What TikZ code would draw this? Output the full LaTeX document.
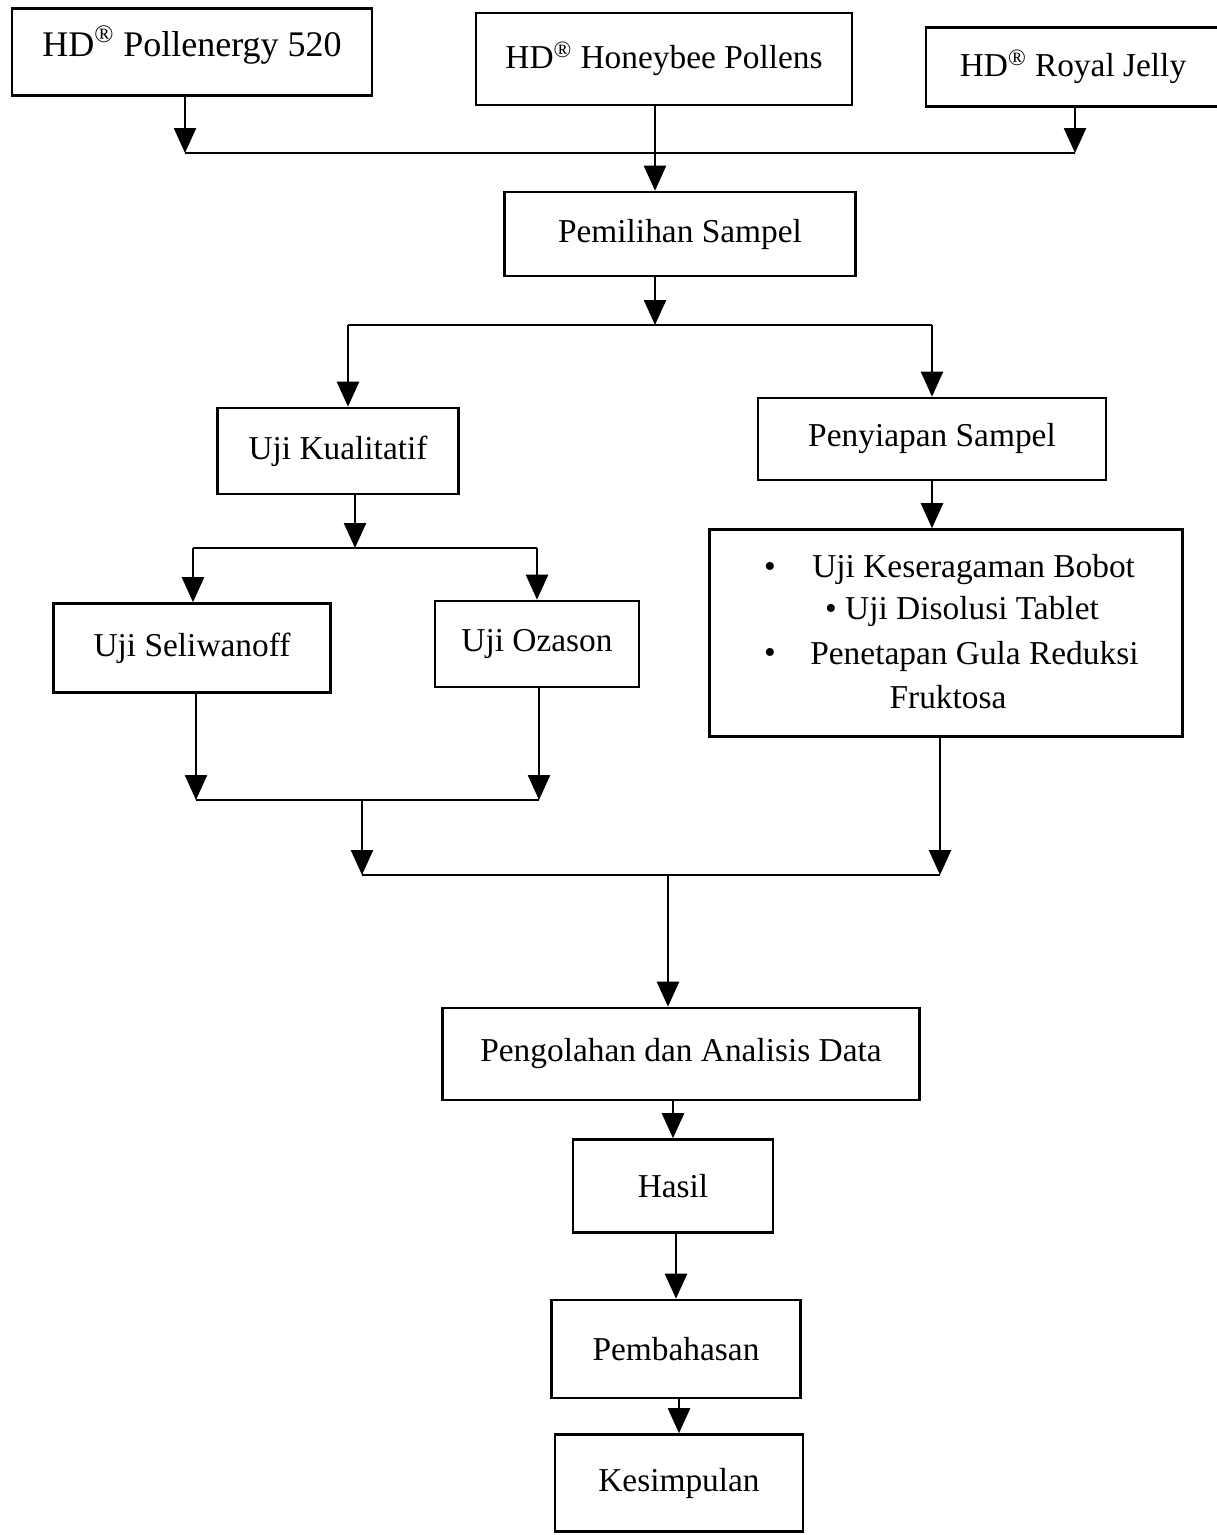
\documentclass[tikz,border=0pt]{standalone}
\usepackage{fontspec}
\setmainfont{Liberation Serif}
\usetikzlibrary{arrows.meta}
\begin{document}
\begin{tikzpicture}[x=0.02cm,y=-0.02cm,
  box/.style={draw,line width=1.5pt,inner sep=0pt,align=center,font=\fontsize{19}{23}\selectfont},
  plain/.style={inner sep=0pt,font=\fontsize{19}{23}\selectfont},
  ln/.style={line width=1.4pt},
  arr/.style={line width=1.4pt,-{Triangle[width=0.44cm,length=0.5cm]}}]
\useasboundingbox (0,0) rectangle (1217,1535);
% nodes
\node[box,minimum width=7.2cm,minimum height=1.74cm,font=\fontsize{20.5}{24}\selectfont] (p1) at (192,52) {\raisebox{0.14cm}[\height][\depth]{HD\textsuperscript{®} Pollenergy 520}};
\node[box,minimum width=7.52cm,minimum height=1.84cm] (p2) at (664,59) {HD\textsuperscript{®} Honeybee Pollens};
\node[box,minimum width=5.88cm,minimum height=1.58cm] (p3) at (1073,67) {HD\textsuperscript{®} Royal Jelly};
\node[box,minimum width=7.02cm,minimum height=1.68cm] (pem) at (680,234) {Pemilihan Sampel};
\node[box,minimum width=4.82cm,minimum height=1.72cm] (kual) at (338,451) {Uji Kualitatif};
\node[box,minimum width=6.96cm,minimum height=1.64cm] (peny) at (932,439) {Penyiapan Sampel};
\node[box,minimum width=5.54cm,minimum height=1.78cm] (seli) at (192,648) {Uji Seliwanoff};
\node[box,minimum width=4.08cm,minimum height=1.72cm] (oza) at (537,644) {Uji Ozason};
\node[box,minimum width=9.46cm,minimum height=4.14cm] (big) at (946,633) {};
\node[plain] (b1) at (770,570) {•};
\node[plain,anchor=west] (t1) at (812,570) {Uji Keseragaman Bobot};
\node[plain] (t2) at (962,611) {• Uji Disolusi Tablet};
\node[plain] (b3) at (770,656) {•};
\node[plain,anchor=west] (t3) at (810,656) {Penetapan Gula Reduksi};
\node[plain] (t4) at (948,697) {Fruktosa};
\node[box,minimum width=9.54cm,minimum height=1.84cm] (peng) at (681,1054) {Pengolahan dan Analisis Data};
\node[box,minimum width=4.0cm,minimum height=1.86cm] (hasil) at (673,1186) {Hasil};
\node[box,minimum width=4.98cm,minimum height=1.96cm] (pemb) at (676,1349) {Pembahasan};
\node[box,minimum width=4.96cm,minimum height=1.94cm] (kesi) at (679,1483) {Kesimpulan};
% junction coordinates
\coordinate (j1l) at (185,153);
\coordinate (j1r) at (1075,153);
\coordinate (c1) at (655,153);
\coordinate (j2) at (655,325);
\coordinate (j2l) at (348,325);
\coordinate (j2r) at (932,325);
\coordinate (j3) at (355,548);
\coordinate (j3l) at (193,548);
\coordinate (j3r) at (537,548);
\coordinate (j4l) at (196,800);
\coordinate (j4r) at (539,800);
\coordinate (j4m) at (362,800);
\coordinate (j5l) at (362,875);
\coordinate (j5r) at (940,875);
\coordinate (j5m) at (668,875);
% connectors
\draw[arr] (j1l |- p1.south) -- (j1l);
\draw[arr] (j1r |- p3.south) -- (j1r);
\draw[ln] (j1l) -- (j1r);
\draw[arr] (c1 |- p2.south) -- (c1 |- pem.north);
\draw[arr] (j2 |- pem.south) -- (j2);
\draw[ln] (j2l) -- (j2r);
\draw[arr] (j2l) -- (j2l |- kual.north);
\draw[arr] (j2r) -- (j2r |- peny.north);
\draw[arr] (j3 |- kual.south) -- (j3);
\draw[ln] (j3l) -- (j3r);
\draw[arr] (j3l) -- (j3l |- seli.north);
\draw[arr] (j3r) -- (j3r |- oza.north);
\draw[arr] (peny.south) -- (peny.south |- big.north);
\draw[arr] (j4l |- seli.south) -- (j4l);
\draw[arr] (j4r |- oza.south) -- (j4r);
\draw[ln] (j4l) -- (j4r);
\draw[arr] (j4m) -- (j5l);
\draw[arr] (j5r |- big.south) -- (j5r);
\draw[ln] (j5l) -- (j5r);
\draw[arr] (j5m) -- (j5m |- peng.north);
\draw[arr] (hasil.north |- peng.south) -- (hasil.north);
\draw[arr] (pemb.north |- hasil.south) -- (pemb.north);
\draw[arr] (kesi.north |- pemb.south) -- (kesi.north);
\end{tikzpicture}
\end{document}
